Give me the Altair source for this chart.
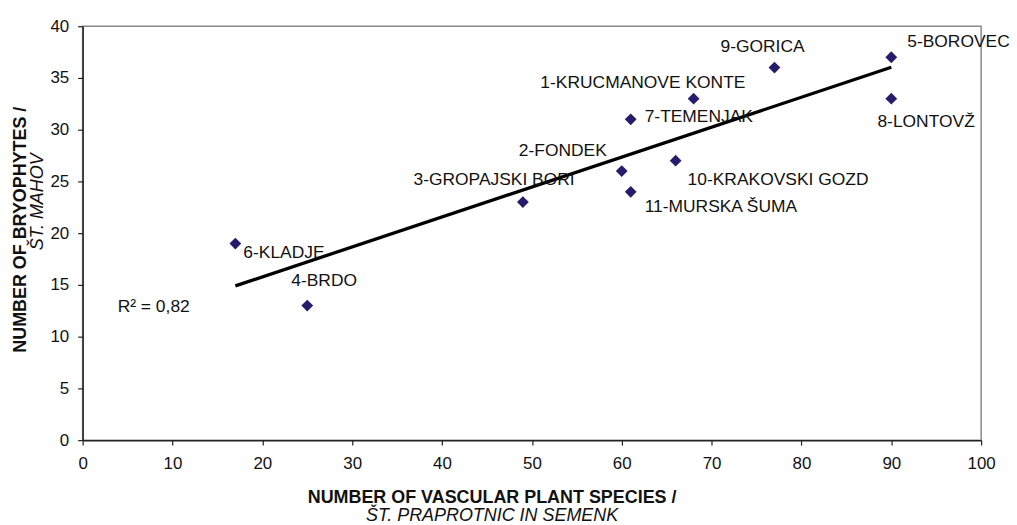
import altair as alt
import pandas as pd

sites = ["1-KRUCMANOVE KONTE", "2-FONDEK", "3-GROPAJSKI BORI", "4-BRDO", "5-BOROVEC",
         "6-KLADJE", "7-TEMENJAK", "8-LONTOVŽ", "9-GORICA", "10-KRAKOVSKI GOZD", "11-MURSKA ŠUMA"]
vascular = [68, 60, 49, 25, 90, 17, 61, 90, 77, 66, 61]
bryophytes = [33, 26, 23, 13, 37, 19, 31, 33, 36, 27, 24]

x_ticks = list(range(0, 101, 10))
y_ticks = list(range(0, 41, 5))

df = pd.DataFrame({"site": sites, "vascular": vascular, "bryophytes": bryophytes})

FONT = "Liberation Sans"
INK = "#111111"
DOT = "#261c6c"
LABEL_SIZE = 17.5

# label placement (pixel offsets relative to each point)
label_style = {
    "1-KRUCMANOVE KONTE": (-51, -16, "center"),
    "2-FONDEK": (-15, -20, "right"),
    "3-GROPAJSKI BORI": (-29, -22, "center"),
    "4-BRDO": (17, -25, "center"),
    "5-BOROVEC": (16, -15, "left"),
    "6-KLADJE": (8, 10, "left"),
    "7-TEMENJAK": (14, -2, "left"),
    "8-LONTOVŽ": (35, 24, "center"),
    "9-GORICA": (-12, -21, "center"),
    "10-KRAKOVSKI GOZD": (12, 19, "left"),
    "11-MURSKA ŠUMA": (14, 15, "left"),
}

xscale = alt.Scale(domain=[0, 100], nice=False)
yscale = alt.Scale(domain=[0, 40], nice=False)

x_axis = alt.Axis(values=x_ticks, grid=False, tickSize=5, tickWidth=1.2, tickColor="#222",
                  domainColor="#222", domainWidth=1.5, labelFont=FONT, labelFontSize=17,
                  labelColor=INK, labelPadding=11, labelFlush=False,
                  title="NUMBER OF VASCULAR PLANT SPECIES /", titleFont=FONT, titleFontSize=18,
                  titleFontWeight="bold", titleColor=INK, titleX=411, titleY=63,
                  titleAlign="center", titleBaseline="alphabetic", orient="bottom")
y_axis = alt.Axis(values=y_ticks, grid=False, tickSize=5, tickWidth=1.2, tickColor="#222",
                  domainColor="#222", domainWidth=1.5, labelFont=FONT, labelFontSize=17,
                  labelColor=INK, labelPadding=9, labelFlush=False,
                  title="NUMBER OF BRYOPHYTES /", titleFont=FONT, titleFontSize=18,
                  titleFontWeight="bold", titleColor=INK, titleX=-57, titleY=204,
                  titleAlign="center", titleBaseline="alphabetic", titleAngle=270, orient="left")

X = alt.X("vascular:Q", scale=xscale, axis=x_axis)
Y = alt.Y("bryophytes:Q", scale=yscale, axis=y_axis)

base = alt.Chart(df)

trend = base.transform_regression("vascular", "bryophytes").mark_line(
    color="black", strokeWidth=3.3).encode(x=X, y=Y)

points = base.mark_point(shape="diamond", filled=True, size=140, color=DOT, opacity=1).encode(x=X, y=Y)

label_layers = []
for s in sites:
    dx, dy, al = label_style[s]
    label_layers.append(
        base.transform_filter(alt.FieldEqualPredicate(field="site", equal=s))
        .mark_text(dx=dx, dy=dy, align=al, baseline="middle", font=FONT, fontSize=LABEL_SIZE, color=INK)
        .encode(x=X, y=Y, text="site:N")
    )

r2 = (base.transform_regression("vascular", "bryophytes", params=True)
      .transform_calculate(lab="'R² = ' + replace(format(datum.rSquared, '.2f'), '.', ',')")
      .mark_text(align="left", baseline="middle", font=FONT, fontSize=LABEL_SIZE, color=INK)
      .encode(x=alt.datum(3.9, scale=xscale), y=alt.datum(12.85, scale=yscale), text="lab:N"))

main = alt.layer(trend, points, *label_layers, r2)

hidden = base.mark_point(opacity=0).encode(
    x=alt.X("vascular:Q", scale=xscale,
            axis=alt.Axis(orient="bottom", labels=False, ticks=False, domain=False, grid=False,
                          title="ŠT. PRAPROTNIC IN SEMENK", titleFont=FONT, titleFontSize=18,
                          titleFontWeight="normal", titleFontStyle="italic", titleColor=INK,
                          titleX=411, titleY=81, titleAlign="center", titleBaseline="alphabetic")),
    y=alt.Y("bryophytes:Q", scale=yscale,
            axis=alt.Axis(orient="left", labels=False, ticks=False, domain=False, grid=False,
                          title="ŠT. MAHOV", titleFont=FONT, titleFontSize=18,
                          titleFontWeight="normal", titleFontStyle="italic", titleColor=INK,
                          titleX=-40, titleY=176, titleAlign="center", titleBaseline="alphabetic",
                          titleAngle=270)),
)

chart = (alt.layer(main, hidden)
         .resolve_scale(x="independent", y="independent")
         .properties(width=903, height=416, autosize=alt.AutoSizeParams(type="none"),
                     padding={"left": 75, "top": 17, "right": 28, "bottom": 84},
                     background="white")
         .configure_view(stroke="#8a8a8a", strokeWidth=1.5))

chart.save("out.html", embed_options={"renderer": "svg", "actions": False})
